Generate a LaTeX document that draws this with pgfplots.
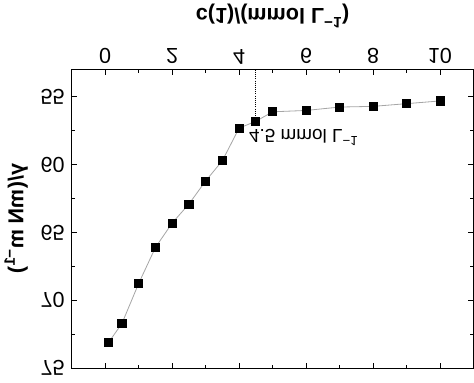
\documentclass[border=0pt]{standalone}
\usepackage{pgfplots}
\pgfplotsset{compat=1.18}
\usepackage{fontspec}
\setmainfont{Liberation Sans}
\newcommand{\tickfont}{\fontsize{16}{19}\selectfont}
\newcommand{\labfont}{\fontsize{16}{19}\selectfont\bfseries}
\begin{document}
\begin{tikzpicture}
\begin{axis}[
  scale only axis, width=297.75pt, height=221.25pt,
  xmin=-1, xmax=11, ymin=53, ymax=75,
  y dir=reverse,
  xtick={0,2,4,6,8,10}, minor x tick num=1,
  ytick={55,60,65,70,75}, minor y tick num=1,
  tick align=inside,
  major tick length=4pt, minor tick length=2.5pt,
  xticklabel pos=upper,
  xtick pos=both, ytick pos=both,
  yticklabel pos=left,
  /pgf/number format/assume math mode=true,
  tick label style={font=\tickfont},
  xticklabel style={yscale=-1, anchor=north, inner sep=4pt},
  yticklabel style={yscale=-1, anchor=east, inner sep=5pt},
  xlabel={c(1)/(mmol L\textsuperscript{−1})},
  ylabel={γ/(mN m\textsuperscript{−1})},
  xlabel style={at={(ticklabel cs:0.5,8pt)}, font=\labfont, yscale=-1, anchor=north},
  every axis y label/.style={at={(ticklabel cs:0.5,1pt)}, yscale=-1, rotate=90, anchor=south, font=\labfont},
  axis line style={line width=0.8pt},
  every tick/.style={black, line width=0.7pt},
]
\addplot[gray!70, line width=0.6pt, mark=square*, mark size=3pt,
  mark options={black, fill=black}] coordinates {
  (0.1,73.1) (0.5,71.7) (1.0,68.75) (1.5,66.1) (2.0,64.3) (2.5,62.9)
  (3.0,61.2) (3.5,59.7) (4.0,57.3) (4.5,56.8) (5.0,56.1) (6.0,56.0)
  (7.0,55.75) (8.0,55.7) (9.0,55.5) (10.0,55.3)
};
\addplot[black, densely dotted, line width=0.6pt] coordinates {(4.5,53) (4.5,56.8)};
\node[yscale=-1, anchor=west, font=\fontsize{14}{16}\selectfont, inner sep=1pt] at (axis cs:4.25,58.0) {4.5 mmol L\textsuperscript{−1}};
\end{axis}
\end{tikzpicture}
\end{document}
